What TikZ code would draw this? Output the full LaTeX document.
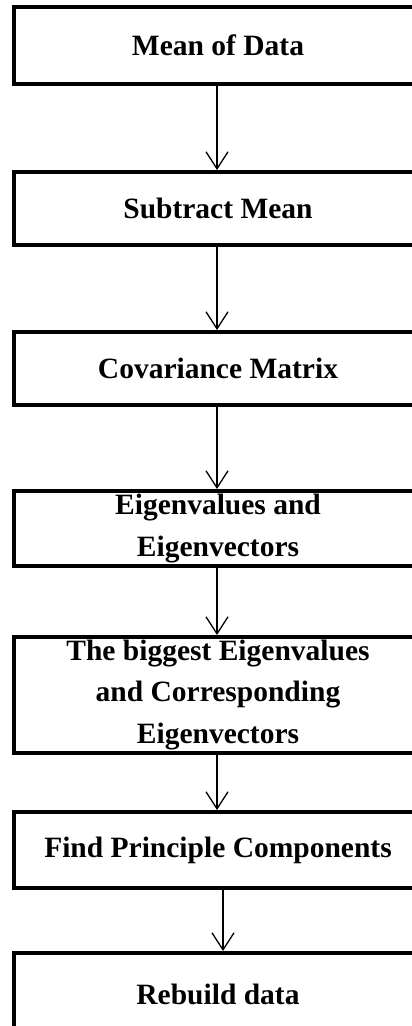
\documentclass[tikz,border=0pt]{standalone}
\usepackage{fontspec}
\setmainfont{Liberation Serif}
\usetikzlibrary{arrows.meta}

\tikzset{
  stepbox/.style={draw=black, line width=4pt, fill=white, minimum width=408pt,
    inner sep=0pt, align=center, font=\fontsize{29.5}{41.5}\selectfont\bfseries},
  flow/.style={draw=black, line width=1.3pt,
    -{Straight Barb[length=17pt, width=22pt, line width=1.3pt]}}
}

\begin{document}
\begin{tikzpicture}[x=1pt, y=-1pt]
  \useasboundingbox (0,0) rectangle (412,1026);
  \clip (0,0) rectangle (412,1026);
  \fill[white] (0,0) rectangle (412,1026);

  % process steps (box centre, height = border-to-border distance)
  \node[stepbox, minimum height=77pt]  (mean)   at (218,45.5)  {Mean of Data};
  \node[stepbox, minimum height=73pt]  (sub)    at (218,208.5) {Subtract Mean};
  \node[stepbox, minimum height=73pt]  (cov)    at (218,368.5) {Covariance Matrix};
  \node[stepbox, minimum height=75pt]  (eig)    at (218,528.5) {Eigenvalues and\\Eigenvectors};
  \node[stepbox, minimum height=116pt] (big)    at (218,695)   {The biggest Eigenvalues\\and Corresponding\\Eigenvectors};
  \node[stepbox, minimum height=76pt]  (pc)     at (218,850)   {Find Principle Components};
  \node[stepbox, minimum height=83pt]  (build)  at (218,994.5) {Rebuild data};

  % connectors
  \draw[flow] ([xshift=-1pt]mean.south) -- ([xshift=-1pt]sub.north);
  \draw[flow] ([xshift=-1pt]sub.south)  -- ([xshift=-1pt]cov.north);
  \draw[flow] ([xshift=-1pt]cov.south)  -- ([xshift=-1pt]eig.north);
  \draw[flow] ([xshift=-1pt]eig.south)  -- ([xshift=-1pt]big.north);
  \draw[flow] ([xshift=-1pt]big.south)  -- ([xshift=-1pt]pc.north);
  \draw[flow] ([xshift=5pt]pc.south)    -- ([xshift=5pt]build.north);
\end{tikzpicture}
\end{document}
